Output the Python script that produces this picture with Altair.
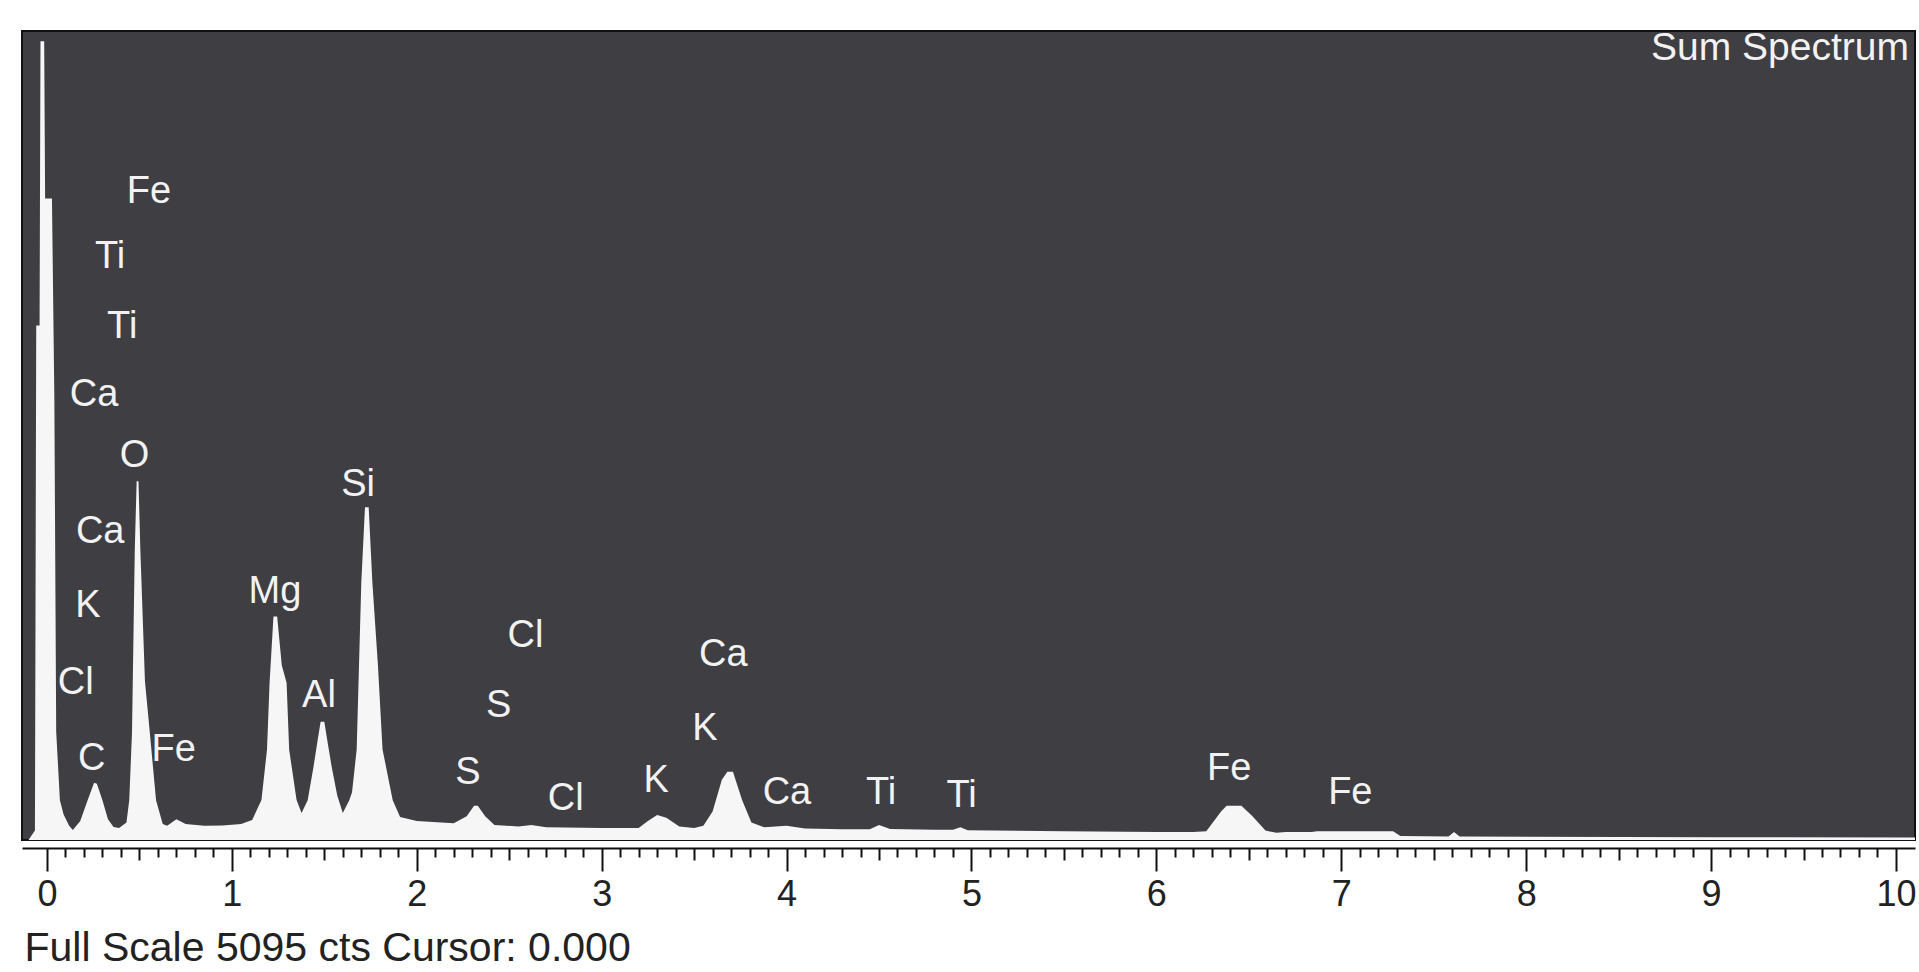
import altair as alt
import pandas as pd

# ---- spectrum (energy in keV, counts) ----
energy_kev = [-0.135, -0.100, -0.065, -0.058, -0.040, -0.035, -0.015, -0.010, 0.027, 0.040,
              0.050, 0.070, 0.090, 0.120, 0.140, 0.180, 0.220, 0.255, 0.270, 0.300,
              0.330, 0.360, 0.390, 0.430, 0.445, 0.460, 0.475, 0.485, 0.495, 0.505,
              0.530, 0.556, 0.590, 0.626, 0.650, 0.700, 0.750, 0.850, 0.950, 1.050,
              1.110, 1.160, 1.190, 1.204, 1.225, 1.245, 1.270, 1.296, 1.310, 1.350,
              1.377, 1.410, 1.440, 1.460, 1.480, 1.500, 1.520, 1.540, 1.570, 1.600,
              1.635, 1.650, 1.675, 1.700, 1.720, 1.740, 1.760, 1.790, 1.815, 1.870,
              1.910, 2.000, 2.200, 2.270, 2.310, 2.330, 2.370, 2.420, 2.550, 2.620,
              2.700, 3.000, 3.200, 3.250, 3.300, 3.350, 3.420, 3.500, 3.550, 3.600,
              3.650, 3.680, 3.710, 3.760, 3.810, 3.880, 4.000, 4.100, 4.300, 4.450,
              4.500, 4.560, 4.800, 4.900, 4.940, 4.980, 5.500, 6.000, 6.200, 6.270,
              6.350, 6.380, 6.460, 6.520, 6.590, 6.650, 6.700, 6.840, 6.870, 7.280,
              7.320, 7.580, 7.610, 7.640, 8.000, 9.000, 10.103]
counts = [0, 0, 60, 3240, 3240, 5030, 5030, 4040, 4040, 2780,
          680, 250, 160, 90, 63, 120, 250, 360, 355, 250,
          130, 82, 75, 110, 250, 680, 1830, 2260, 2260, 1830,
          1000, 680, 250, 100, 90, 130, 100, 90, 92, 100,
          126, 252, 568, 990, 1407, 1407, 1100, 990, 568, 252,
          170, 250, 450, 600, 745, 745, 600, 460, 280, 170,
          250, 300, 570, 1620, 2095, 2095, 1620, 1100, 570, 250,
          145, 120, 105, 150, 215, 215, 150, 95, 85, 95,
          80, 75, 75, 120, 158, 140, 85, 75, 90, 180,
          380, 430, 430, 250, 110, 80, 90, 72, 68, 68,
          95, 70, 64, 64, 80, 62, 55, 50, 50, 55,
          180, 215, 215, 150, 60, 45, 50, 50, 55, 55,
          25, 22, 50, 22, 20, 18, 15]

# ---- element labels ----
label_text = ["Fe", "Ti", "Ti", "Ca", "O", "Ca", "K", "Cl", "C", "Fe",
              "Mg", "Al", "Si", "Cl", "S", "S", "Cl", "Ca", "K", "K",
              "Ca", "Ti", "Ti", "Fe", "Fe"]
label_kev = [0.552, 0.341, 0.407, 0.255, 0.473, 0.288, 0.222, 0.156, 0.242, 0.685,
             1.233, 1.471, 1.683, 2.588, 2.443, 2.277, 2.806, 3.658, 3.559, 3.295,
             4.002, 4.511, 4.947, 6.394, 7.049]
label_cts = [4081, 3673, 3233, 2802, 2416, 1938, 1475, 989, 512, 566,
             1560, 905, 2238, 1283, 843, 419, 257, 1167, 697, 373,
             295, 295, 280, 450, 295]

major_ticks = list(range(0, 11))
half_ticks = [i + 0.5 for i in range(10)]
minor_ticks = [round(i * 0.1, 1) for i in range(101) if i % 5 != 0]

title_text = ["Sum Spectrum"]
title_kev = [10.07]
title_cts = [4990]

footer = "Full Scale 5095 cts Cursor: 0.000"

FONT = "Liberation Sans"
X_DOMAIN = [-0.135, 10.103]
Y_DOMAIN = [0, 5095]

spec = pd.DataFrame({"keV": energy_kev, "cts": counts})
labels = pd.DataFrame({"el": label_text, "keV": label_kev, "cts": label_cts})
ttl = pd.DataFrame({"t": title_text, "keV": title_kev, "cts": title_cts})

xscale = alt.Scale(domain=X_DOMAIN, nice=False, zero=False)
yscale = alt.Scale(domain=Y_DOMAIN, nice=False, zero=False)

area = alt.Chart(spec).mark_area(color="#f6f6f6", interpolate="linear", clip=True).encode(
    x=alt.X("keV:Q", scale=xscale,
            axis=alt.Axis(orient="bottom", values=major_ticks, tickSize=23, tickWidth=2,
                          tickColor="#111111",
                          domain=True, domainColor="#111111", domainWidth=2,
                          labelFontSize=36, labelFont=FONT, labelColor="#222222",
                          labelPadding=6, labelFlush=False, labelOverlap=False,
                          grid=False, offset=8, format="d",
                          title=footer, titleFont=FONT, titleFontSize=41,
                          titleFontWeight="normal", titleColor="#222222",
                          titleAnchor="start", titleAlign="left", titleBaseline="alphabetic",
                          titleX=2, titleY=112)),
    y=alt.Y("cts:Q", scale=yscale, axis=None),
)

half_layer = alt.Chart(spec).mark_point(opacity=0).encode(
    x=alt.X("keV:Q", scale=xscale,
            axis=alt.Axis(orient="bottom", values=half_ticks, tickSize=12, tickWidth=2,
                          tickColor="#111111",
                          domain=False, labels=False, grid=False, offset=8, title=None)),
    y=alt.Y("cts:Q", scale=yscale, axis=None),
)

minor_layer = alt.Chart(spec).mark_point(opacity=0).encode(
    x=alt.X("keV:Q", scale=xscale,
            axis=alt.Axis(orient="bottom", values=minor_ticks, tickSize=9, tickWidth=2,
                          tickColor="#111111",
                          domain=False, labels=False, grid=False, offset=8, title=None)),
    y=alt.Y("cts:Q", scale=yscale, axis=None),
)

text_layer = alt.Chart(labels).mark_text(color="#f2f2f2", fontSize=38, font=FONT,
                                         align="center", baseline="middle").encode(
    x=alt.X("keV:Q", scale=xscale, axis=None),
    y=alt.Y("cts:Q", scale=yscale, axis=None),
    text="el:N",
)

title_layer = alt.Chart(ttl).mark_text(color="#f2f2f2", fontSize=39, font=FONT,
                                       align="right", baseline="middle").encode(
    x=alt.X("keV:Q", scale=xscale, axis=None),
    y=alt.Y("cts:Q", scale=yscale, axis=None),
    text="t:N",
)

chart = alt.layer(area, half_layer, minor_layer, text_layer, title_layer).resolve_axis(
    x="independent"
).properties(
    width=1893, height=809,
    autosize=alt.AutoSizeParams(type="none"),
    padding={"left": 22, "top": 31, "right": 4, "bottom": 132},
    background="#ffffff",
).configure_view(
    fill="#3e3e43", stroke="#111111", strokeWidth=2
)

chart.save("out.html", embed_options={"renderer": "svg", "actions": False})
